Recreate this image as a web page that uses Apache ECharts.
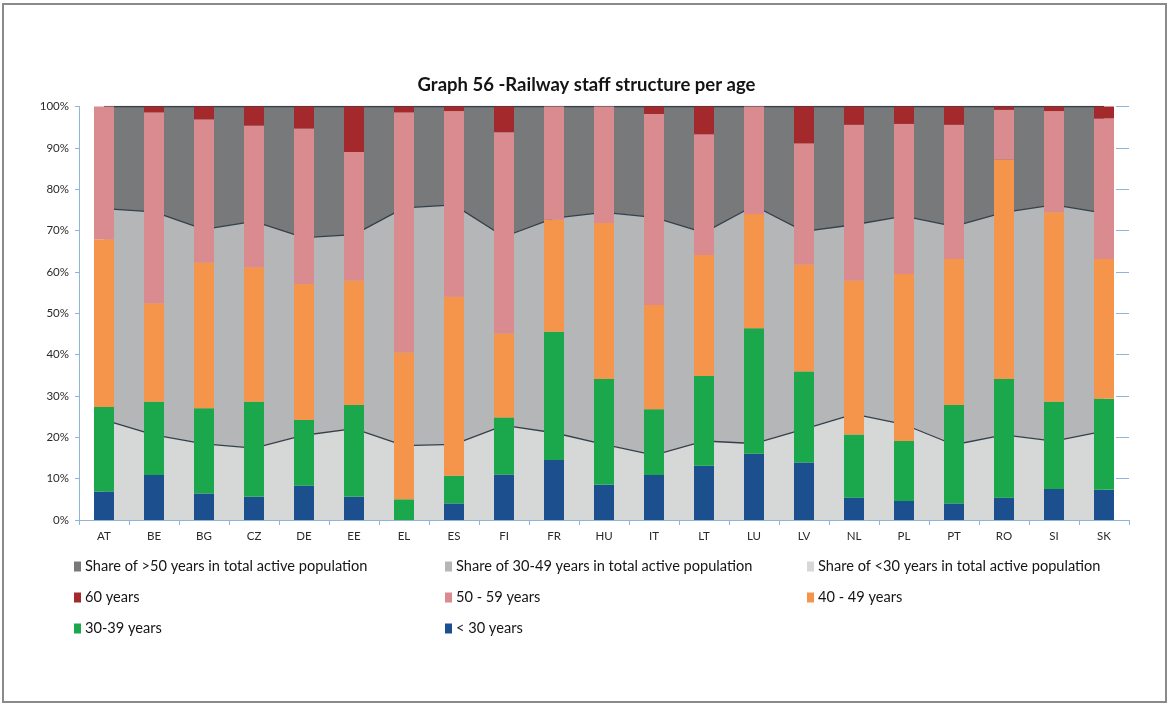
<!DOCTYPE html>
<html>
<head>
<meta charset="utf-8">
<script src="https://cdn.jsdelivr.net/npm/echarts@6/dist/echarts.min.js"></script>
<style>
  html, body { margin: 0; padding: 0; background: #fff; }
  #frame { position: absolute; left: 2px; top: 3px; width: 1165px; height: 700px; border: 2px solid #8a8a8a; box-sizing: border-box; }
  #chart { position: absolute; left: 0; top: 0; width: 1173px; height: 707px; }
</style>
</head>
<body>
<div id="frame"></div>
<div id="chart"></div>
<script>
const categories = ['AT','BE','BG','CZ','DE','EE','EL','ES','FI','FR','HU','IT','LT','LU','LV','NL','PL','PT','RO','SI','SK'];

// Railway staff by age group (% of staff)
const under30 = [6.9,10.9,6.4,5.6,8.3,5.6,0,4,11,14.5,8.5,10.9,13.1,16,13.9,5.4,4.6,4,5.4,7.5,7.3];
const y30_39  = [20.4,17.7,20.6,23,15.9,22.2,5,6.7,13.8,31,25.6,15.9,21.7,30.4,22,15.3,14.5,23.8,28.7,21.1,22];
const y40_49  = [40.6,23.8,35.3,32.5,32.9,30.1,35.5,43.3,20.3,27.1,37.7,25.2,29.3,27.6,25.9,37.2,40.4,35.3,53.1,45.8,33.8];
const y50_59  = [32.1,46.2,34.6,34.3,37.6,31.1,58.1,44.9,48.7,27.4,28.2,46.2,29.2,26,29.3,37.7,36.3,32.5,12,24.5,34];
const y60     = [0,1.4,3.1,4.6,5.3,11,1.4,1.1,6.2,0,0,1.8,6.7,0,8.9,4.4,4.2,4.4,0.8,1.1,2.9];

// Share in total active population (%)
const shareUnder30 = [24.2,20.6,18.4,17.4,20.5,22.1,18,18.3,22.9,21.1,18.3,15.7,19.1,18.5,22,25.6,23.1,18.2,20.6,19.1,21.5];
const share30_49   = [51.1,53.9,51.9,54.8,47.8,46.9,57.5,57.9,45.6,51.9,56.1,57.5,50.4,57.5,47.8,45.8,50.4,52.8,53.8,57.1,52.7];
const shareOver50  = [24.7,25.5,29.7,27.8,31.7,31,24.5,23.8,31.5,27,25.6,26.8,30.5,24,30.2,28.6,26.5,29,25.6,23.8,25.8];

const yTicks = { min: 0, max: 100, interval: 10 };

const NAMES = {
  over50: 'Share of >50 years in total active population',
  mid: 'Share of 30-49 years in total active population',
  young: 'Share of <30 years in total active population',
  s60: '60 years',
  s50: '50 - 59 years',
  s40: '40 - 49 years',
  s30: '30-39 years',
  sU: '< 30 years'
};

const FONT = 'Lato, "Open Sans", sans-serif';
const axisBlue = '#8fb5da';
const lineDark = '#34414a';

function areaSeries(name, data, color) {
  return {
    name, type: 'line', stack: 'pop', data,
    symbol: 'none', showSymbol: false, z: 1,
    itemStyle: { color },
    lineStyle: { color: lineDark, width: 1.3 },
    areaStyle: { color, opacity: 1 },
    emphasis: { disabled: true }
  };
}
function barSeries(name, data, color) {
  return {
    name, type: 'bar', stack: 'staff', data, barWidth: '40%', z: 3,
    itemStyle: { color },
    emphasis: { disabled: true }
  };
}

function legendAt(name, left, top) {
  return {
    data: [name], left, top, icon: 'rect', itemWidth: 7, itemHeight: 10, itemGap: 4,
    selectedMode: false,
    textStyle: { fontFamily: FONT, fontSize: 14.6, color: '#151515', padding: [0, 0, 0, -1] }
  };
}

const chart = echarts.init(document.getElementById('chart'), null, { renderer: 'canvas' });
chart.setOption({
  animation: false,
  backgroundColor: 'transparent',
  title: {
    text: 'Graph 56 -Railway staff structure per age',
    left: 'center', top: 71,
    textStyle: { fontFamily: FONT, fontSize: 18.5, fontWeight: 'bold', color: '#141414' }
  },
  legend: [
    legendAt(NAMES.over50, 69, 554),
    legendAt(NAMES.mid, 440, 554),
    legendAt(NAMES.young, 802, 554),
    legendAt(NAMES.s60, 69, 585),
    legendAt(NAMES.s50, 440, 585),
    legendAt(NAMES.s40, 802, 585),
    legendAt(NAMES.s30, 69, 616),
    legendAt(NAMES.sU, 440, 616)
  ],
  grid: { left: 79, top: 106.5, width: 1050, height: 413.5, containLabel: false },
  xAxis: {
    type: 'category', data: categories, boundaryGap: true,
    axisLine: { lineStyle: { color: axisBlue, width: 1 } },
    axisTick: { show: true, length: 5, lineStyle: { color: axisBlue } },
    axisLabel: { fontFamily: FONT, fontSize: 11.5, color: '#2a2a2a', margin: 10 }
  },
  yAxis: [
    {
      type: 'value', min: yTicks.min, max: yTicks.max, interval: yTicks.interval,
      axisLine: { show: true, lineStyle: { color: axisBlue } },
      axisTick: { show: true, length: 4, lineStyle: { color: axisBlue } },
      axisLabel: { formatter: '{value}%', fontFamily: FONT, fontSize: 11.5, color: '#2a2a2a', margin: 10 },
      splitLine: { show: false }
    },
    {
      type: 'value', position: 'right', min: yTicks.min, max: yTicks.max, interval: yTicks.interval,
      axisLine: { show: false },
      axisTick: { show: true, inside: true, length: 13, lineStyle: { color: axisBlue } },
      axisLabel: { show: false },
      splitLine: { show: false }
    }
  ],
  series: [
    areaSeries(NAMES.young, shareUnder30, '#d6d7d7'),
    areaSeries(NAMES.mid, share30_49, '#b4b6b7'),
    areaSeries(NAMES.over50, shareOver50, '#77797a'),
    barSeries(NAMES.sU, under30, '#1c4f8e'),
    barSeries(NAMES.s30, y30_39, '#1ba84c'),
    barSeries(NAMES.s40, y40_49, '#f5944b'),
    barSeries(NAMES.s50, y50_59, '#d98b8f'),
    barSeries(NAMES.s60, y60, '#a3292c')
  ]
});
</script>
</body>
</html>
